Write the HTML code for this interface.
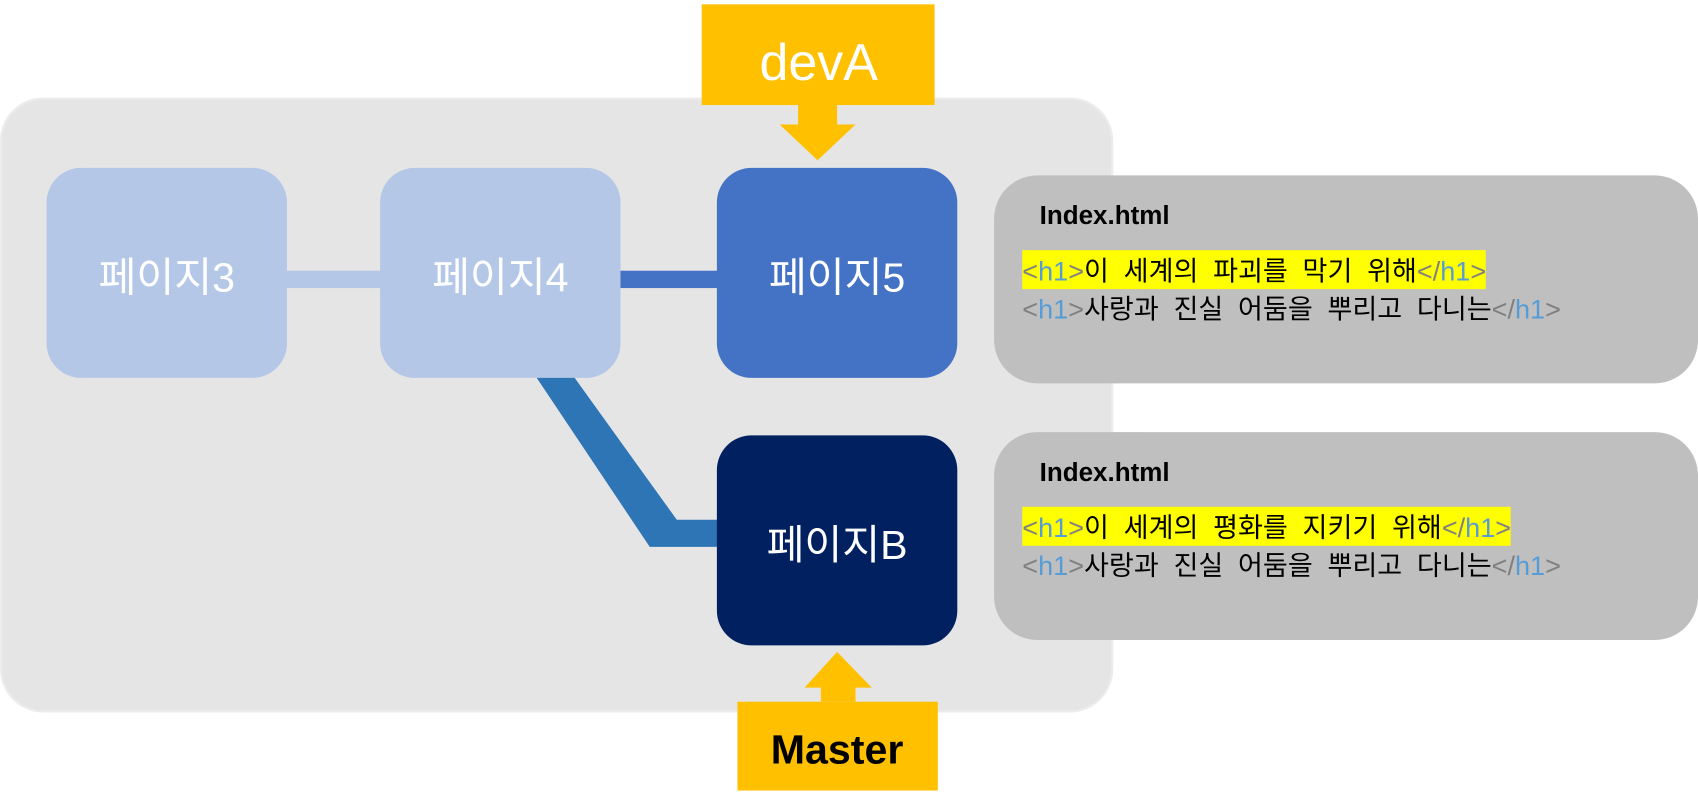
<!DOCTYPE html>
<html><head><meta charset="utf-8"><style>
html,body{margin:0;padding:0;background:#fff;width:1698px;height:801px;overflow:hidden}
#s{position:absolute;left:0;top:0;width:1568px;height:740px;transform:scale(1.08291);transform-origin:0 0}
.a{position:absolute;box-sizing:border-box}
.n{position:absolute;width:222px;height:194px;border-radius:32px;color:#fff;font:38px "Liberation Sans","Noto Sans CJK KR",sans-serif;display:flex;align-items:center;justify-content:center}
.cb{position:absolute;left:918px;width:650px;height:192px;background:#bfbfbf;border-radius:40px}
.t{position:absolute;left:42px;font:bold 24px "Liberation Sans",sans-serif;color:#000}
.l{position:absolute;left:26px;font:25px "Noto Sans CJK KR",sans-serif;color:#000;white-space:pre;word-spacing:8px;line-height:35px}
.g{color:#808080;font-family:"Liberation Sans",sans-serif}
.b{color:#569cd6;font-family:"Liberation Sans",sans-serif}
.hl{background:#ffff00}
</style></head><body><div id="s">
<div class="a" style="left:0;top:90px;width:1028px;height:568px;background:#e5e5e5;border:2px solid #ececec;border-radius:40px"></div>
<svg class="a" style="left:0;top:0" width="1568" height="740">
<rect x="265" y="250" width="90" height="16" fill="#b4c7e7"/>
<rect x="570" y="250" width="95" height="16" fill="#4472c4"/>
<polygon points="495,348 530,348 625,480 665,480 665,505 600,505" fill="#2e75b6"/>
<rect x="648" y="4" width="215" height="93" fill="#ffc000"/>
<polygon points="737,97 773,97 773,115 790,115 755,148 720,115 737,115" fill="#ffc000"/>
<rect x="681" y="648" width="185" height="82" fill="#ffc000"/>
<polygon points="758,648 790,648 790,635 805,635 773,602 743,635 758,635" fill="#ffc000"/>
<text x="756" y="74" text-anchor="middle" font-family="Liberation Sans" font-size="48" fill="#fff">devA</text>
<text x="773" y="705" text-anchor="middle" font-family="Liberation Sans" font-weight="bold" font-size="38" fill="#000">Master</text>
</svg>
<div class="n" style="left:43px;top:155px;background:#b4c7e7">페이지3</div>
<div class="n" style="left:351px;top:155px;background:#b4c7e7">페이지4</div>
<div class="n" style="left:662px;top:155px;background:#4472c4">페이지5</div>
<div class="n" style="left:662px;top:402px;background:#002060">페이지B</div>
<div class="cb" style="top:162px">
<div class="t" style="top:24px">Index.html</div>
<div class="l" style="top:70px"><span class="hl"><span class="g">&lt;</span><span class="b">h1</span><span class="g">&gt;</span>이 세계의 파괴를 막기 위해<span class="g">&lt;/</span><span class="b">h1</span><span class="g">&gt;</span></span></div>
<div class="l" style="top:105px"><span class="g">&lt;</span><span class="b">h1</span><span class="g">&gt;</span>사랑과 진실 어둠을 뿌리고 다니는<span class="g">&lt;/</span><span class="b">h1</span><span class="g">&gt;</span></div>
</div>
<div class="cb" style="top:399px">
<div class="t" style="top:24px">Index.html</div>
<div class="l" style="top:70px"><span class="hl"><span class="g">&lt;</span><span class="b">h1</span><span class="g">&gt;</span>이 세계의 평화를 지키기 위해<span class="g">&lt;/</span><span class="b">h1</span><span class="g">&gt;</span></span></div>
<div class="l" style="top:105px"><span class="g">&lt;</span><span class="b">h1</span><span class="g">&gt;</span>사랑과 진실 어둠을 뿌리고 다니는<span class="g">&lt;/</span><span class="b">h1</span><span class="g">&gt;</span></div>
</div>
</div></body></html>
